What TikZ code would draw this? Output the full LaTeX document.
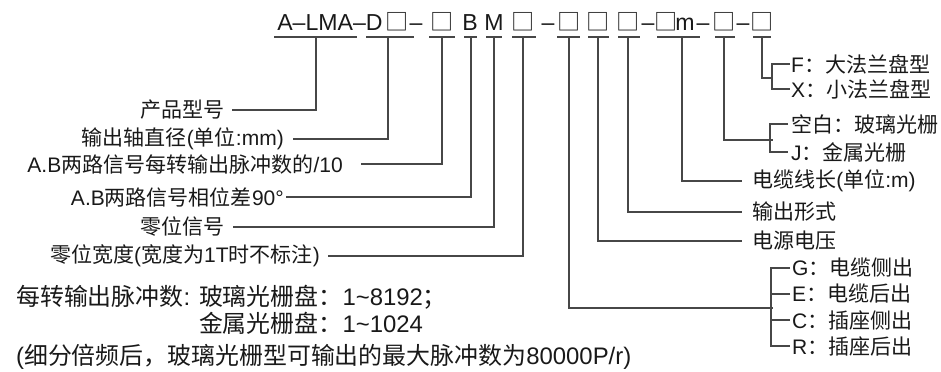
\documentclass[tikz,border=0pt]{standalone}
\usepackage{fontspec}
\setmainfont{Liberation Sans}
\newfontfamily\cjk{Noto Sans CJK SC}
\newcommand\zh[1]{{\cjk #1}}
\newcommand\lblfont{\fontsize{21.1}{24}\selectfont}
\newcommand\notefont{\fontsize{24}{27}\selectfont}
\newcommand\codefont{\fontsize{23.2}{26}\selectfont}
\newcommand\tld{\textasciitilde}
\begin{document}
\begin{tikzpicture}[x=1bp,y=-1bp,
  ln/.style={line width=1.1bp,draw=black!72},
  lab/.style={inner sep=0pt,font=\lblfont,text=black!90},
  note/.style={inner sep=0pt,font=\notefont,text=black!90,anchor=west},
  code/.style={inner sep=0pt,anchor=base,font=\codefont,text=black!90}]
\useasboundingbox (0,0) rectangle (941,371);
% ---- top code ----
\node[code] (c1) at (330,30) {A–LMA–D};
\node[code] (c2) at (397,30) {\zh{□}};
\node[code] (c3) at (416,30) {–};
\node[code] (c4) at (442,30) {\zh{□}};
\node[code] (c5) at (470,30) {B};
\node[code] (c6) at (494,30) {M};
\node[code] (c7) at (523,30) {\zh{□}};
\node[code] (c8) at (548,30) {–};
\node[code] (c9) at (569,30) {\zh{□}};
\node[code] (c10) at (598,30) {\zh{□}};
\node[code] (c11) at (628,30) {\zh{□}};
\node[code] (c12) at (648,30) {–};
\node[code] (c13) at (666,30) {\zh{□}};
\node[code] (c14) at (685,30) {m};
\node[code] (c15) at (703,30) {–};
\node[code] (c16) at (724,30) {\zh{□}};
\node[code] (c17) at (743,30) {–};
\node[code] (c18) at (762,30) {\zh{□}};
% underlines
\foreach \a/\b in {274/357,366/414,429/455,464/477,486/502,512/536,557/580,588/609,618/640,657/700,715/735,753/771}
  \draw[ln] (\a,37) -- (\b,37);
\foreach \n/\x in {1/316,2/388,3/442,4/471,5/494,6/523,7/569,8/598,9/628,10/682,11/724,12/762}
  \coordinate (u\n) at (\x,37);
% ---- left labels ----
\node[lab,anchor=east] (l1) at (225,110) {\zh{产品型号}};
\node[lab,anchor=east] (l2) at (284,139) {\zh{输出轴直径}(\zh{单位}:mm)};
\node[lab,anchor=east] (l3) at (343,164) {A.B\zh{两路信号每转输出脉冲数的}/10};
\node[lab,anchor=east] (l4) at (284,197) {A.B\zh{两路信号相位差}90°};
\node[lab,anchor=east] (l5) at (225,227) {\zh{零位信号}};
\node[lab,anchor=east] (l6) at (320,256) {\zh{零位宽度}(\zh{宽度为}1T\zh{时不标注})};
\draw[ln] (u1) |- ([xshift=7bp]l1.east);
\draw[ln] (u2) |- ([xshift=9bp]l2.east);
\draw[ln] (u3) |- ([xshift=18bp]l3.east);
\draw[ln] (u4) |- ([xshift=2bp]l4.east);
\draw[ln] (u5) |- ([xshift=8bp]l5.east);
\draw[ln] (u6) |- ([xshift=8bp]l6.east);
% ---- right labels ----
\node[lab,anchor=west] (rF) at (791,64) {F\zh{：大法兰盘型}};
\node[lab,anchor=west] (rX) at (791,89) {X\zh{：小法兰盘型}};
\node[lab,anchor=west] (rK) at (791,124) {\zh{空白：玻璃光栅}};
\node[lab,anchor=west] (rJ) at (791,152) {J\zh{：金属光栅}};
\node[lab,anchor=west] (m1) at (752,181) {\zh{电缆线长}(\zh{单位}:m)};
\node[lab,anchor=west] (m2) at (752,212) {\zh{输出形式}};
\node[lab,anchor=west] (m3) at (752,241) {\zh{电源电压}};
\node[lab,anchor=west] (rG) at (792,268) {G\zh{：电缆侧出}};
\node[lab,anchor=west] (rE) at (792,294) {E\zh{：电缆后出}};
\node[lab,anchor=west] (rC) at (792,320) {C\zh{：插座侧出}};
\node[lab,anchor=west] (rR) at (792,346) {R\zh{：插座后出}};
\coordinate (bFX) at (773,78);
\coordinate (bKJ) at (773,140);
\coordinate (bG) at (773,308);
\draw[ln] ([xshift=-1bp]rF.west) -- ([xshift=-1bp]rF.west -| bFX) |- ([xshift=-1bp]rX.west);
\draw[ln] (u12) |- (bFX);
\draw[ln] ([xshift=-3bp]rK.west) -- ([xshift=-3bp]rK.west -| bKJ) |- ([xshift=-3bp]rJ.west);
\draw[ln] (u11) |- (bKJ);
\draw[ln] (u10) |- ([xshift=-10bp]m1.west);
\draw[ln] (u9) |- ([xshift=-10bp]m2.west);
\draw[ln] (u8) |- ([xshift=-10bp]m3.west);
\draw[ln] ([xshift=-2bp]rG.west) -- ([xshift=-2bp]rG.west -| bG) |- ([xshift=-2bp]rR.west);
\draw[ln] ([xshift=-2bp]rE.west) -- ([xshift=-2bp]rE.west -| bG);
\draw[ln] ([xshift=-2bp]rC.west) -- ([xshift=-2bp]rC.west -| bG);
\draw[ln] (u7) |- (bG);
% ---- bottom notes ----
\node[note] (n1) at (16,297) {\zh{每转输出脉冲数}: \zh{玻璃光栅盘：}1\tld8192\zh{；}};
\node[note] (n2) at (16,323) {\hphantom{\zh{每转输出脉冲数}: }\zh{金属光栅盘：}1\tld1024};
\node[note] (n3) at (16,357) {(\zh{细分倍频后，玻璃光栅型可输出的最大脉冲数为}80000P/r)};
\end{tikzpicture}
\end{document}
